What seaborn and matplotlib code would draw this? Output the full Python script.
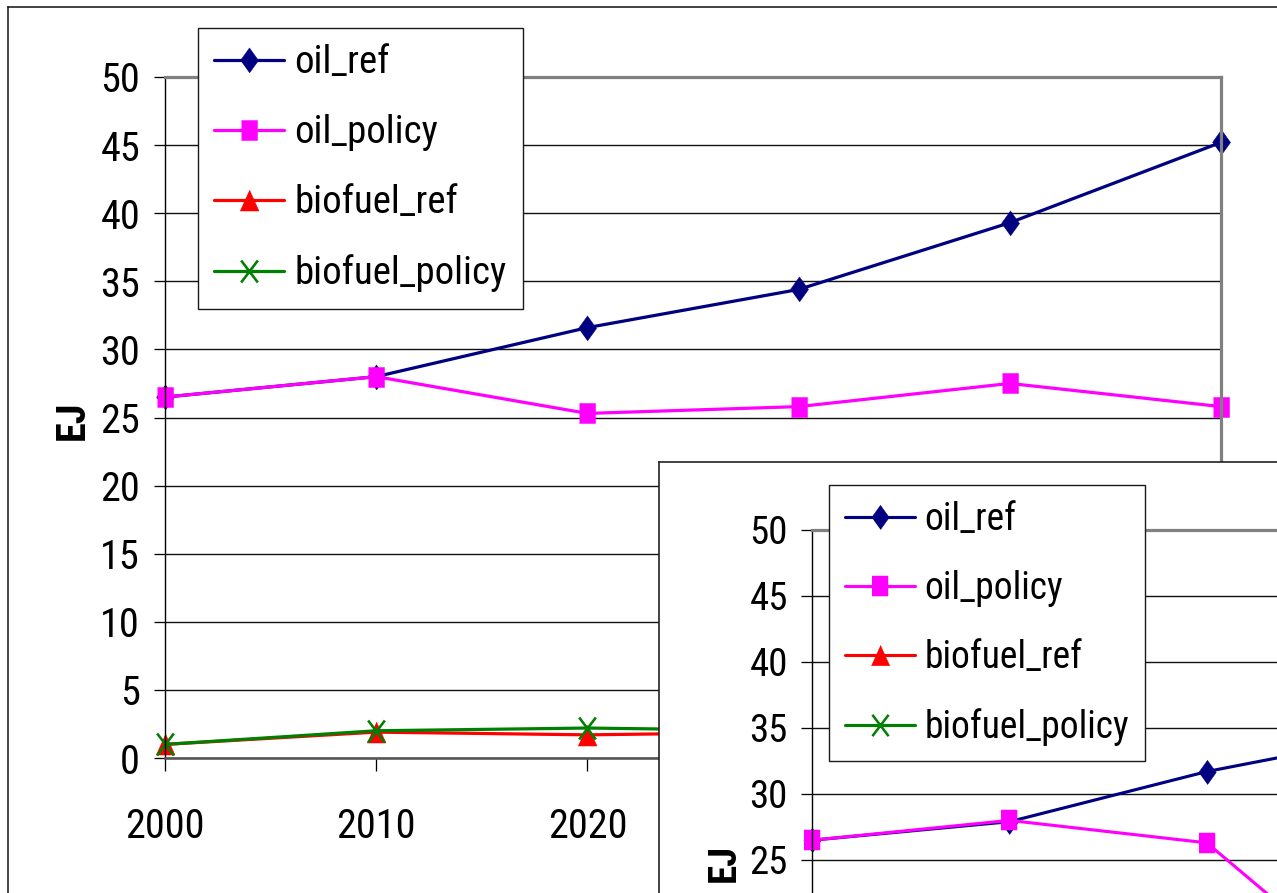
import matplotlib
matplotlib.use("Agg")
import matplotlib.pyplot as plt
from matplotlib import font_manager
from matplotlib.path import Path
import seaborn as sns

# ---------------------------------------------------------------- data
years = [2000, 2010, 2020, 2030, 2040, 2050]
y_ticks = [0, 5, 10, 15, 20, 25, 30, 35, 40, 45, 50]
series_names = ["oil_ref", "oil_policy", "biofuel_ref", "biofuel_policy"]

# first run (EJ)
oil_ref = [26.5, 28.0, 31.6, 34.4, 39.3, 45.2]
oil_policy = [26.5, 28.0, 25.3, 25.8, 27.5, 25.8]
biofuel_ref = [1.0, 1.9, 1.7, 1.9, 2.0, 2.2]
biofuel_policy = [1.0, 2.0, 2.2, 2.0, 2.4, 2.8]

# second run (EJ)
oil_ref_b = [26.5, 27.9, 31.7, 34.6, 39.2, 44.8]
oil_policy_b = [26.5, 28.0, 26.3, 13.7, 10.5, 8.5]
biofuel_ref_b = [1.0, 1.9, 1.7, 1.9, 2.0, 2.2]
biofuel_policy_b = [1.0, 2.0, 2.2, 4.5, 6.5, 8.0]

# ---------------------------------------------------------------- style
sns.set_theme(style="white")
available = {f.name for f in font_manager.fontManager.ttflist}
narrow_fonts = ["Liberation Sans Narrow", "Arial Narrow", "Roboto Condensed",
                "Open Sans Condensed"]
base_font = next((f for f in narrow_fonts if f in available), None)
if base_font is None:
    base_font, FS_MAIN, FS_B, FS_LEG = "Liberation Sans", 26, 25, 25
else:
    FS_MAIN, FS_B, FS_LEG = 29, 28, 28
plt.rcParams["font.family"] = [base_font, "DejaVu Sans"]
for key in ("text.color", "axes.labelcolor", "xtick.color", "ytick.color"):
    plt.rcParams[key] = "black"

W, H = 1277, 893
PT = 0.72  # points per pixel at 100 dpi

fig = plt.figure(figsize=(W / 100, H / 100), dpi=100)
fig.patch.set_facecolor("white")


def px_box(x0, y0, x1, y1):
    """Axes rectangle from pixel corners (origin top-left)."""
    return [x0 / W, 1 - y1 / H, (x1 - x0) / W, (y1 - y0) / H]


colors = {
    "oil_ref": "#000080",
    "oil_policy": "#FF00FF",
    "biofuel_ref": "#FF0000",
    "biofuel_policy": "#008000",
}
diamond = [(0, -0.5), (0.36, 0), (0, 0.5), (-0.36, 0)]
square = [(-0.4, -0.5), (0.4, -0.5), (0.4, 0.5), (-0.4, 0.5)]
triangle = [(-0.45, -0.5), (0.45, -0.5), (0, 0.5)]
cross = Path([(-0.38, -0.5), (0.38, 0.5), (-0.38, 0.5), (0.38, -0.5)],
             [Path.MOVETO, Path.LINETO, Path.MOVETO, Path.LINETO])
marker_spec = {
    "oil_ref": (diamond, 25),
    "oil_policy": (square, 20),
    "biofuel_ref": (triangle, 21),
    "biofuel_policy": (cross, 22),
}


def frame_axes(box, z):
    ax = fig.add_axes(box, zorder=z)
    ax.set_facecolor("white")
    ax.set_xticks([])
    ax.set_yticks([])
    for s in ax.spines.values():
        s.set_color("#1a1a1a")
        s.set_linewidth(1.6 * PT)
    return ax


def chart(ax, data, fs, leg_fs, scale, legend_xy, ylabel_xy, row_gap):
    lines = []
    for name, values in zip(series_names, data):
        mk, size = marker_spec[name]
        is_cross = name == "biofuel_policy"
        sns.lineplot(
            x=years, y=values, ax=ax, color=colors[name],
            linewidth=3.2 * PT * scale,
            marker=mk, markersize=size * PT * scale,
            markerfacecolor=colors[name], markeredgecolor=colors[name],
            markeredgewidth=(2.6 if is_cross else 0.5) * PT * scale,
            label=name, legend=False, clip_on=False,
        )
        lines.append(ax.lines[-1])

    ax.set_xlim(2000, 2050)
    ax.set_ylim(0, 50)
    ax.set_xticks(years)
    ax.set_yticks(y_ticks)
    ax.set_xlabel("")
    ax.grid(axis="y", color="#111111", linewidth=1.4 * PT)
    ax.grid(axis="x", visible=False)
    ax.set_axisbelow(True)

    ax.spines["left"].set_color("black")
    ax.spines["left"].set_linewidth(1.4 * PT)
    ax.spines["bottom"].set_color("#555555")
    ax.spines["bottom"].set_linewidth(2.6 * PT)
    ax.spines["top"].set_color("#808080")
    ax.spines["top"].set_linewidth(3.2 * PT)
    ax.spines["right"].set_color("#808080")
    ax.spines["right"].set_linewidth(3.2 * PT)

    ax.tick_params(axis="x", bottom=True, direction="out", length=13 * PT * scale,
                   width=1.3 * PT, pad=26 * scale, labelsize=fs, colors="black")
    ax.tick_params(axis="y", left=True, direction="out", length=11 * PT * scale,
                   width=1.3 * PT, pad=10 * scale, labelsize=fs, colors="black")

    ax.set_ylabel("EJ", fontsize=fs, fontweight="bold")
    ax.yaxis.set_label_coords(ylabel_xy[0] / W, 1 - ylabel_xy[1] / H,
                              transform=fig.transFigure)

    leg = ax.legend(
        handles=lines, labels=series_names, loc="upper left",
        bbox_to_anchor=(legend_xy[0] / W, 1 - legend_xy[1] / H),
        bbox_transform=fig.transFigure, borderaxespad=0,
        frameon=True, fancybox=False, framealpha=1, edgecolor="#1a1a1a",
        fontsize=leg_fs, handlelength=70 * PT / leg_fs,
        handletextpad=10 * PT / leg_fs,
        labelspacing=row_gap * PT / leg_fs, borderpad=0.42,
    )
    leg.get_frame().set_linewidth(1.4 * PT)
    leg.set_zorder(10)


# main chart
frame_axes(px_box(8, 7, 1500, 1200), 0)
ax_main = fig.add_axes(px_box(165, 77, 1221, 758), zorder=1)
ax_main.set_facecolor("none")
chart(ax_main, [oil_ref, oil_policy, biofuel_ref, biofuel_policy],
      fs=FS_MAIN, leg_fs=FS_LEG, scale=1.0, legend_xy=(198, 28),
      ylabel_xy=(92, 420), row_gap=33)

# second chart, laid over the lower right corner
frame_axes(px_box(659, 462, 1600, 1400), 2)
ax_b = fig.add_axes(px_box(812, 530, 812 + 5 * 197.4, 1190), zorder=3)
ax_b.set_facecolor("none")
chart(ax_b, [oil_ref_b, oil_policy_b, biofuel_ref_b, biofuel_policy_b],
      fs=FS_B, leg_fs=FS_LEG - 1, scale=0.97, legend_xy=(829, 485),
      ylabel_xy=(743, 863), row_gap=32)

fig.savefig("out.png", dpi=100)
